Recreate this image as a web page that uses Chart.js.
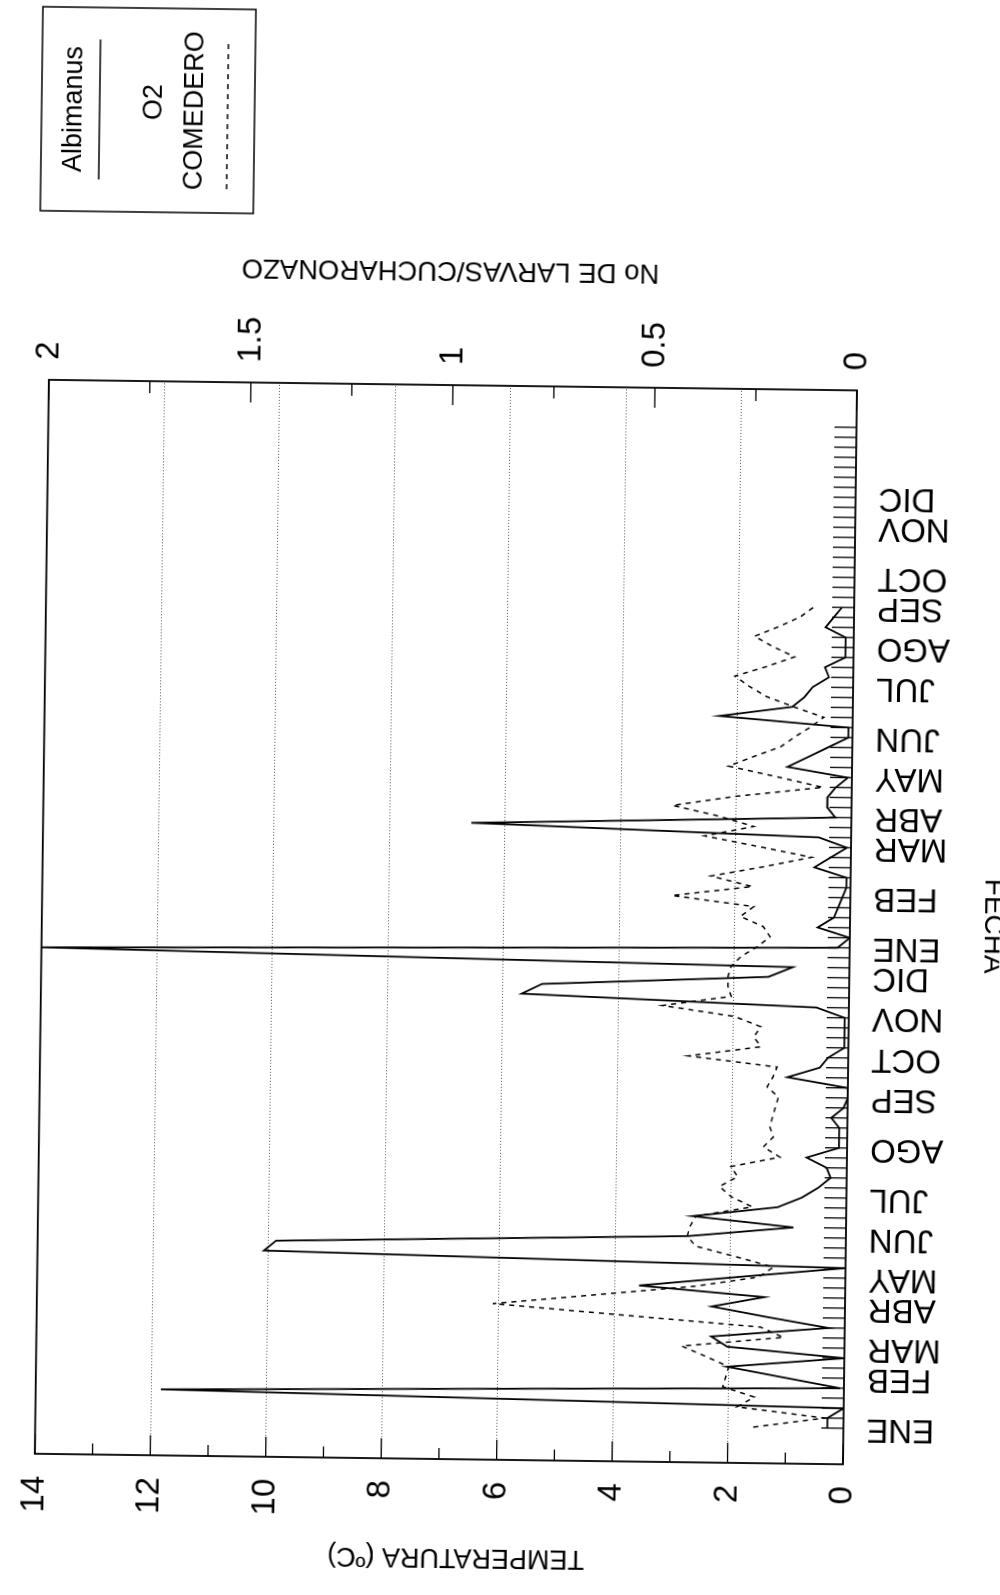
<!DOCTYPE html>
<html>
<head>
<meta charset="utf-8">
<title>Albimanus - O2 COMEDERO</title>
<script src="https://cdn.jsdelivr.net/npm/chart.js@4.4.1/dist/chart.umd.min.js"></script>
<style>
  html, body { margin: 0; padding: 0; width: 1000px; height: 1595px; overflow: hidden; background: #fff; }
  /* The chart is laid out in landscape and turned a quarter turn to sit on the portrait page */
  #stage {
    position: absolute; left: 0; top: 0; width: 1595px; height: 1000px;
    transform-origin: 0 0;
    transform: translate(440px, 922px) rotate(0.75deg) translate(-440px, -922px) translate(0, 1595px) rotate(-90deg);
  }
  canvas { display: block; }
</style>
</head>
<body>
<div id="stage"><canvas id="c" width="1595" height="1000"></canvas></div>
<script>
// Month names and the sampling number at which each one is written
const meses = ['ENE','FEB','MAR','ABR','MAY','JUN','JUL','AGO','SEP','OCT','NOV','DIC',
               'ENE','FEB','MAR','ABR','MAY','JUN','JUL','AGO','SEP','OCT','NOV','DIC'];
const mesEnMuestra = [0,5,8,12,15,19,23,28,33,37,41,45,48,53,58,61,65,69,74,78,82,85,90,93];
const totalMuestras = 101;

// Larvae per dip (Albimanus), one value per sampling
const albimanus = [
  0.04,0.04,0.00,1.69,0.01,0.15,0.29,0.00,0.29,0.33,
  0.04,0.19,0.33,0.20,0.51,0.26,0.00,1.44,1.41,0.39,
  0.13,0.38,0.17,0.11,0.07,0.04,0.05,0.10,0.02,0.02,
  0.02,0.04,0.01,0.00,0.00,0.15,0.07,0.05,0.01,0.01,
  0.01,0.01,0.08,0.81,0.76,0.20,0.14,2.00,0.03,0.00,
  0.08,0.04,0.03,0.02,0.01,0.01,0.09,0.05,0.01,0.08,
  0.94,0.04,0.06,0.06,0.04,0.01,0.16,0.11,0.06,0.01,
  0.01,0.33,0.15,0.12,0.10,0.06,0.07,0.02,0.02,0.02,
  0.07,0.05,0.03
];

// O2 at the COMEDERO site, read on the left axis
const o2Comedero = [
  1.56,0.33,1.85,1.55,2.10,2.05,2.00,2.40,2.82,1.06,
  1.46,3.80,6.10,4.35,2.60,1.50,1.25,1.90,2.60,2.75,
  2.70,2.60,1.63,2.00,2.20,1.89,2.01,1.16,1.45,1.28,
  1.34,1.30,1.25,1.20,1.40,1.30,1.23,2.77,1.52,1.64,
  1.52,1.98,3.23,2.04,2.10,2.10,2.05,1.88,1.60,1.38,
  1.50,1.90,1.67,3.09,1.70,2.42,1.50,0.68,1.60,2.54,
  1.69,2.30,3.10,2.00,0.50,1.30,2.14,1.70,1.24,1.00,
  0.73,0.50,1.02,1.50,1.80,2.05,1.50,1.02,1.40,1.72,
  1.30,0.93,0.70
];

const etiquetaMes = {};
mesEnMuestra.forEach((m, k) => { etiquetaMes[m] = meses[k]; });

const FONT = "'Liberation Sans', Arial, Helvetica, sans-serif";
Chart.defaults.font.family = FONT;
Chart.defaults.color = '#000';

// Box, inward tick marks, axis titles and the framed legend
const marco = {
  id: 'marco',
  afterDraw(chart) {
    const { ctx, chartArea: a, scales } = chart;
    const x = scales.x, t = scales.temp, l = scales.larvas;
    ctx.save();
    ctx.strokeStyle = '#000';
    ctx.lineWidth = 1.3;
    ctx.setLineDash([]);

    // sampling ticks along the date axis
    for (let i = 0; i < totalMuestras; i++) {
      const px = x.getPixelForValue(i);
      ctx.beginPath(); ctx.moveTo(px, a.bottom); ctx.lineTo(px, a.bottom - 22); ctx.stroke();
    }
    // temperature ticks, every degree
    for (let v = 0; v <= 14; v++) {
      const py = t.getPixelForValue(v);
      const len = v % 2 === 0 ? 20 : 11;
      ctx.beginPath(); ctx.moveTo(a.left, py); ctx.lineTo(a.left + len, py); ctx.stroke();
    }
    // larvae ticks, every quarter
    for (let v = 0; v <= 2.0001; v += 0.25) {
      const py = l.getPixelForValue(v);
      const len = Math.abs(v * 2 - Math.round(v * 2)) < 1e-6 ? 20 : 12;
      ctx.beginPath(); ctx.moveTo(a.right, py); ctx.lineTo(a.right - len, py); ctx.stroke();
    }
    // plot frame
    ctx.lineWidth = 1.8;
    ctx.strokeRect(a.left, a.top, a.right - a.left, a.bottom - a.top);

    // axis titles
    ctx.fillStyle = '#000';
    ctx.font = '27px ' + FONT;
    ctx.textAlign = 'center';
    ctx.textBaseline = 'middle';
    const cy = (a.top + a.bottom) / 2;
    ctx.save(); ctx.translate(39, cy + 18); ctx.rotate(-Math.PI / 2);
    ctx.fillText('TEMPERATURA (ºC)', 0, 0); ctx.restore();
    ctx.save(); ctx.translate(1325, cy - 4); ctx.rotate(-Math.PI / 2);
    ctx.font = '27.5px ' + FONT;
    ctx.fillText('No DE LARVAS/CUCHARONAZO', 0, 0); ctx.restore();
    ctx.save(); ctx.translate((a.left + a.right) / 2 + 3, 993); ctx.rotate(Math.PI);
    ctx.font = '28px ' + FONT;
    ctx.fillText('FECHA', 0, 0); ctx.restore();

    // legend
    const lx = 1379, ly = 31, lw = 204, lh = 213;
    ctx.lineWidth = 1.5;
    ctx.strokeRect(lx, ly, lw, lh);
    const ds = chart.data.datasets;
    ctx.font = '27px ' + FONT;
    const cx = lx + lw / 2;
    ctx.fillText(ds[0].label, cx, ly + 33);
    ctx.lineWidth = 1.6;
    ctx.setLineDash(ds[0].borderDash || []);
    ctx.beginPath(); ctx.moveTo(cx - 70, ly + 58); ctx.lineTo(cx + 70, ly + 58); ctx.stroke();
    const partes = ds[1].label.split(' ');
    ctx.setLineDash([]);
    ctx.fillText(partes[0], cx + 8, ly + 113);
    ctx.fillText(partes.slice(1).join(' '), cx, ly + 154);
    ctx.lineWidth = 1.5;
    ctx.setLineDash(ds[1].borderDash || []);
    ctx.beginPath(); ctx.moveTo(cx - 78, ly + 186); ctx.lineTo(cx + 70, ly + 186); ctx.stroke();
    ctx.restore();
  }
};

new Chart(document.getElementById('c'), {
  type: 'line',
  data: {
    datasets: [
      {
        label: 'Albimanus',
        data: albimanus.map((v, i) => ({ x: i, y: v })),
        yAxisID: 'larvas',
        borderColor: '#000',
        borderWidth: 1.8,
        pointRadius: 0,
        tension: 0,
        fill: false
      },
      {
        label: 'O2 COMEDERO',
        data: o2Comedero.map((v, i) => ({ x: i, y: v })),
        yAxisID: 'temp',
        borderColor: '#000',
        borderWidth: 1.5,
        borderDash: [5, 5],
        pointRadius: 0,
        tension: 0,
        fill: false
      }
    ]
  },
  options: {
    responsive: false,
    animation: false,
    devicePixelRatio: 1,
    layout: { padding: { top: 31, left: 0, right: 0, bottom: 0 } },
    plugins: { legend: { display: false }, tooltip: { enabled: false } },
    scales: {
      x: {
        type: 'linear',
        position: 'bottom',
        min: -3.6,
        max: 103.7,
        afterBuildTicks(scale) {
          scale.ticks = Array.from({ length: totalMuestras }, (_, i) => ({ value: i }));
        },
        afterFit(scale) { scale.height = 150; },
        ticks: {
          autoSkip: false,
          minRotation: 90,
          maxRotation: 90,
          padding: 23,
          font: { size: 33 },
          callback: (v) => etiquetaMes[v] || ''
        },
        grid: { display: false, drawTicks: false },
        border: { display: false }
      },
      temp: {
        type: 'linear',
        position: 'left',
        min: 0,
        max: 14,
        afterFit(scale) { scale.width = 136; },
        ticks: { stepSize: 2, padding: 22, font: { size: 33 } },
        grid: {
          drawTicks: false,
          lineWidth: 1,
          color: (c) => (c.tick && (c.tick.value === 0 || c.tick.value === 14)) ? 'rgba(0,0,0,0)' : '#555'
        },
        border: { display: false, dash: [1, 2] }
      },
      larvas: {
        type: 'linear',
        position: 'right',
        min: 0,
        max: 2,
        afterFit(scale) { scale.width = 385; },
        ticks: { stepSize: 0.5, padding: 20, font: { size: 33 }, callback: (v) => String(v) },
        grid: { drawOnChartArea: false, drawTicks: false },
        border: { display: false }
      }
    }
  },
  plugins: [marco]
});
</script>
</body>
</html>
